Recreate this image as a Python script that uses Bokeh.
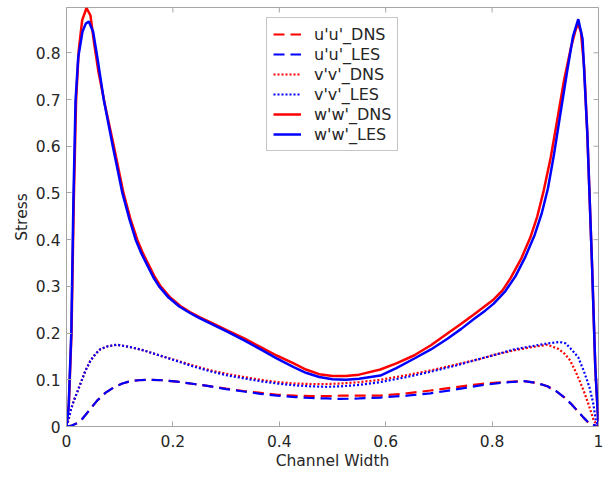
import math
from bokeh.plotting import figure
from bokeh.models import (Range1d, FixedTicker, CustomJSTickFormatter, Legend, LegendItem)
from bokeh.embed import file_html
from bokeh.resources import INLINE

# Reynolds normal stresses across the channel, DNS vs LES
x_uu_dns = [0, 0.01, 0.02, 0.0295, 0.043, 0.058, 0.073, 0.089, 0.105, 0.12, 0.135, 0.152,
            0.18, 0.208, 0.24, 0.271, 0.3, 0.333, 0.365, 0.396, 0.43, 0.459, 0.49, 0.515,
            0.55, 0.59, 0.64, 0.684, 0.73, 0.778, 0.82, 0.86, 0.885, 0.904, 0.92, 0.935,
            0.948, 0.96, 0.972, 0.983, 1.0]
y_uu_dns = [0, 0.002, 0.007, 0.016, 0.035, 0.056, 0.072, 0.084, 0.092, 0.097, 0.099, 0.100,
            0.099, 0.096, 0.091, 0.086, 0.081, 0.076, 0.072, 0.068, 0.066, 0.065, 0.065, 0.066,
            0.066, 0.066, 0.071, 0.077, 0.084, 0.091, 0.095, 0.097, 0.093, 0.086, 0.076, 0.063,
            0.049, 0.034, 0.019, 0.006, 0]

x_uu_les = [0, 0.01, 0.02, 0.0295, 0.043, 0.058, 0.073, 0.089, 0.105, 0.12, 0.135, 0.152,
            0.18, 0.208, 0.24, 0.271, 0.3, 0.333, 0.365, 0.396, 0.43, 0.459, 0.49, 0.515,
            0.55, 0.59, 0.64, 0.684, 0.73, 0.778, 0.82, 0.86, 0.885, 0.904, 0.92, 0.935,
            0.948, 0.96, 0.972, 0.983, 1.0]
y_uu_les = [0, 0.002, 0.007, 0.016, 0.035, 0.056, 0.072, 0.084, 0.092, 0.097, 0.099, 0.100,
            0.099, 0.096, 0.091, 0.086, 0.080, 0.075, 0.070, 0.066, 0.063, 0.061, 0.060, 0.059,
            0.060, 0.062, 0.066, 0.071, 0.079, 0.088, 0.094, 0.097, 0.093, 0.086, 0.076, 0.063,
            0.049, 0.034, 0.019, 0.006, 0]

x_vv_dns = [0, 0.004, 0.008, 0.0137, 0.02, 0.026, 0.035, 0.045, 0.055, 0.064, 0.078, 0.095,
            0.12, 0.145, 0.175, 0.208, 0.24, 0.271, 0.3, 0.333, 0.365, 0.396, 0.43, 0.459,
            0.49, 0.515, 0.55, 0.59, 0.64, 0.684, 0.73, 0.778, 0.81, 0.841, 0.875, 0.904,
            0.925, 0.937, 0.947, 0.96, 0.972, 0.982, 0.991, 1.0]
y_vv_dns = [0, 0.015, 0.035, 0.055, 0.073, 0.091, 0.118, 0.141, 0.156, 0.166, 0.172, 0.175,
            0.170, 0.163, 0.152, 0.141, 0.130, 0.120, 0.113, 0.106, 0.100, 0.095, 0.092, 0.091,
            0.091, 0.092, 0.095, 0.100, 0.110, 0.120, 0.132, 0.145, 0.155, 0.163, 0.170, 0.175,
            0.166, 0.155, 0.141, 0.110, 0.077, 0.045, 0.013, 0]

x_vv_les = [0, 0.004, 0.008, 0.0137, 0.02, 0.026, 0.035, 0.045, 0.055, 0.064, 0.078, 0.095,
            0.12, 0.145, 0.175, 0.208, 0.24, 0.271, 0.3, 0.333, 0.365, 0.396, 0.43, 0.459,
            0.49, 0.515, 0.55, 0.59, 0.64, 0.684, 0.73, 0.778, 0.81, 0.841, 0.875, 0.905,
            0.927, 0.938, 0.945, 0.953, 0.962, 0.972, 0.983, 0.99, 0.995, 1.0]
y_vv_les = [0, 0.015, 0.035, 0.055, 0.073, 0.091, 0.118, 0.141, 0.156, 0.166, 0.172, 0.175,
            0.170, 0.163, 0.152, 0.140, 0.128, 0.118, 0.110, 0.103, 0.097, 0.092, 0.088, 0.086,
            0.085, 0.086, 0.089, 0.095, 0.106, 0.117, 0.130, 0.145, 0.155, 0.165, 0.172, 0.178,
            0.181, 0.178, 0.170, 0.160, 0.148, 0.120, 0.084, 0.050, 0.013, 0]

x_ww_dns = [0, 0.0045, 0.0094, 0.0137, 0.018, 0.023, 0.0295, 0.0376, 0.045, 0.052, 0.06, 0.066,
            0.072, 0.089, 0.107, 0.12, 0.133, 0.144, 0.155, 0.166, 0.177, 0.195, 0.214, 0.232,
            0.25, 0.275, 0.302, 0.335, 0.365, 0.395, 0.427, 0.45, 0.475, 0.5, 0.525, 0.55,
            0.59, 0.62, 0.653, 0.685, 0.716, 0.742, 0.767, 0.78, 0.803, 0.82, 0.835, 0.855,
            0.872, 0.885, 0.897, 0.91, 0.92, 0.935, 0.948, 0.956, 0.961, 0.967, 0.973, 0.979,
            0.988, 0.994, 1.0]
y_ww_dns = [0, 0.05, 0.2, 0.484, 0.698, 0.805, 0.87, 0.896, 0.88, 0.82, 0.76, 0.725,
            0.69, 0.6, 0.5, 0.445, 0.4, 0.37, 0.345, 0.32, 0.3, 0.276, 0.258, 0.245,
            0.234, 0.221, 0.206, 0.188, 0.17, 0.152, 0.135, 0.122, 0.112, 0.108, 0.108, 0.111,
            0.122, 0.135, 0.152, 0.174, 0.199, 0.22, 0.241, 0.252, 0.272, 0.292, 0.318, 0.36,
            0.405, 0.45, 0.505, 0.575, 0.64, 0.74, 0.81, 0.845, 0.863, 0.845, 0.77, 0.627,
            0.341, 0.126, 0]

x_ww_les = [0, 0.004, 0.009, 0.013, 0.017, 0.022, 0.03, 0.036, 0.042, 0.05, 0.058, 0.064,
            0.07, 0.087, 0.096, 0.105, 0.118, 0.13, 0.141, 0.152, 0.163, 0.174, 0.192, 0.212,
            0.232, 0.25, 0.275, 0.302, 0.335, 0.365, 0.395, 0.427, 0.45, 0.475, 0.5, 0.525,
            0.55, 0.59, 0.62, 0.653, 0.685, 0.716, 0.742, 0.767, 0.787, 0.803, 0.825, 0.844,
            0.862, 0.88, 0.893, 0.905, 0.916, 0.927, 0.941, 0.952, 0.962, 0.97, 0.979, 0.988,
            0.994, 1.0]
y_ww_les = [0, 0.04, 0.2, 0.484, 0.698, 0.79, 0.845, 0.862, 0.867, 0.845, 0.79, 0.745,
            0.7, 0.6, 0.55, 0.5, 0.445, 0.4, 0.37, 0.345, 0.32, 0.3, 0.276, 0.257,
            0.243, 0.232, 0.218, 0.203, 0.184, 0.165, 0.146, 0.127, 0.115, 0.106, 0.101, 0.100,
            0.102, 0.109, 0.125, 0.145, 0.165, 0.188, 0.209, 0.231, 0.248, 0.263, 0.29, 0.322,
            0.362, 0.41, 0.455, 0.51, 0.58, 0.66, 0.76, 0.835, 0.872, 0.83, 0.627, 0.341,
            0.126, 0]

x_ticks = [0, 0.2, 0.4, 0.6, 0.8, 1.0]
y_ticks = [0, 0.1, 0.2, 0.3, 0.4, 0.5, 0.6, 0.7, 0.8]
X_MIN, X_MAX = 0.0, 1.0
Y_MIN, Y_MAX = 0.0, 0.897

FONT = "DejaVu Sans"
TXT = "#262626"
AX = "#a6a6a6"
RED = "#ff0000"
BLUE = "#0000ff"

p = figure(width=613, height=478, output_backend="svg", toolbar_location=None,
           x_range=Range1d(X_MIN, X_MAX), y_range=Range1d(Y_MIN, Y_MAX),
           min_border_left=66, min_border_right=15, min_border_top=7, min_border_bottom=52,
           x_axis_label="Channel Width", y_axis_label="Stress")
p.background_fill_color = "white"
p.border_fill_color = "white"
p.grid.visible = False
p.outline_line_color = AX

fmt = CustomJSTickFormatter(code="return String(Math.round(tick * 10) / 10);")

for ax, ticks in ((p.xaxis[0], x_ticks), (p.yaxis[0], y_ticks)):
    ax.ticker = FixedTicker(ticks=ticks)
    ax.formatter = fmt
    ax.axis_line_color = AX
    ax.major_tick_line_color = AX
    ax.major_tick_in = 5
    ax.major_tick_out = 0
    ax.minor_tick_line_color = None
    ax.major_label_text_font = FONT
    ax.major_label_text_font_size = "15.5px"
    ax.major_label_text_color = TXT
    ax.axis_label_text_font = FONT
    ax.axis_label_text_font_size = "15.5px"
    ax.axis_label_text_font_style = "normal"
    ax.axis_label_text_color = TXT
p.xaxis[0].major_label_standoff = 8
p.xaxis[0].axis_label_standoff = 2
p.yaxis[0].major_label_standoff = 6
p.yaxis[0].axis_label_standoff = 2

# inward tick marks on the top and right edges of the box (half is clipped by the frame)
p.scatter(x_ticks, [Y_MAX] * len(x_ticks), marker="dash", angle=math.pi / 2, size=10,
          line_color=AX, line_width=1)
p.scatter([X_MAX] * len(y_ticks), y_ticks, marker="dash", size=10,
          line_color=AX, line_width=1)

lw_solid = 2.5
lw_other = 2.2
r_udns = p.line(x_uu_dns, y_uu_dns, line_color=RED, line_width=lw_other, line_dash="11 6")
r_ules = p.line(x_uu_les, y_uu_les, line_color=BLUE, line_width=lw_other, line_dash="11 6")
r_vdns = p.line(x_vv_dns, y_vv_dns, line_color=RED, line_width=lw_other, line_dash="2 2")
r_vles = p.line(x_vv_les, y_vv_les, line_color=BLUE, line_width=lw_other, line_dash="2 2")
r_wdns = p.line(x_ww_dns, y_ww_dns, line_color=RED, line_width=lw_solid)
r_wles = p.line(x_ww_les, y_ww_les, line_color=BLUE, line_width=lw_solid)

legend = Legend(items=[
    LegendItem(label="u'u'_DNS", renderers=[r_udns]),
    LegendItem(label="u'u'_LES", renderers=[r_ules]),
    LegendItem(label="v'v'_DNS", renderers=[r_vdns]),
    LegendItem(label="v'v'_LES", renderers=[r_vles]),
    LegendItem(label="w'w'_DNS", renderers=[r_wdns]),
    LegendItem(label="w'w'_LES", renderers=[r_wles]),
], location=(200, 275))
legend.label_text_font = FONT
legend.label_text_font_size = "16px"
legend.label_text_color = TXT
legend.glyph_width = 28
legend.glyph_height = 20
legend.label_height = 20
legend.label_standoff = 13
legend.spacing = 0
legend.padding = 6
legend.margin = 0
legend.border_line_color = "#8c8c8c"
legend.border_line_width = 1
legend.background_fill_color = "white"
legend.background_fill_alpha = 1
p.add_layout(legend, "center")

open("out.html", "w").write(file_html(p, INLINE))
